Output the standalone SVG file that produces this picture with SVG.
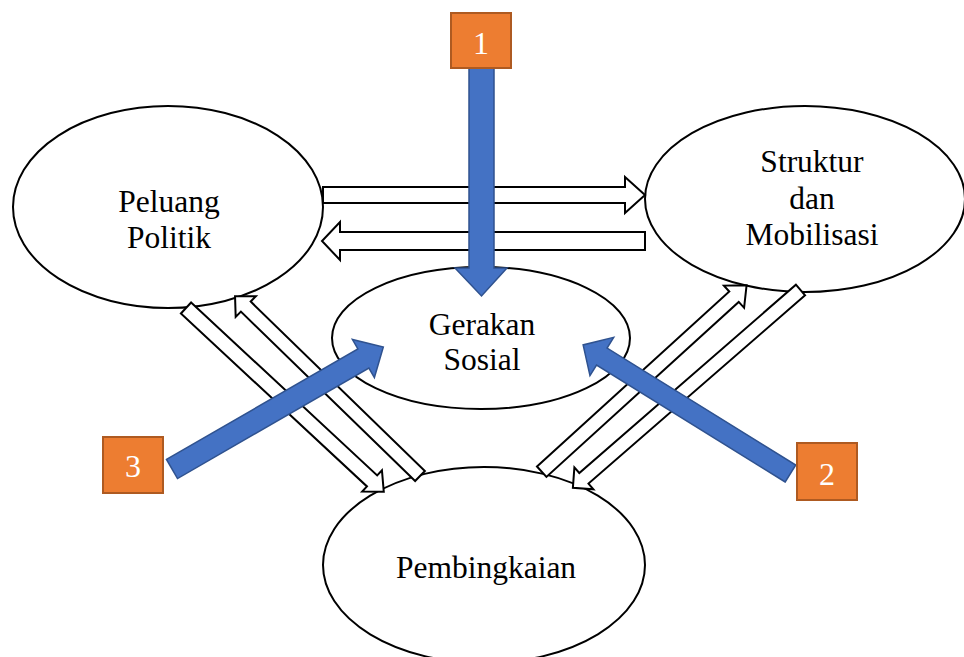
<svg xmlns="http://www.w3.org/2000/svg" width="964" height="657" viewBox="0 0 964 657">
<style>
.node ellipse{fill:#fff;stroke:#000;stroke-width:2}
.lbl{font-family:"Liberation Serif","Times New Roman",serif;font-size:31.5px;fill:#000;text-anchor:middle}
.hollow{fill:#fff;stroke:#000;stroke-width:2;stroke-linejoin:miter}
.blue{fill:#4472C4;stroke:#2F528F;stroke-width:1.5}
.box rect{fill:#ED7D31;stroke:#AE5A21;stroke-width:2}
.num{font-family:"Liberation Serif","Times New Roman",serif;font-size:32px;fill:#fff;text-anchor:middle}
</style>
<rect width="964" height="657" fill="#fff"/>
<g id="peluang" class="node">
<ellipse cx="168" cy="207" rx="155" ry="101"/>
<text class="lbl" x="169" y="212">Peluang</text>
<text class="lbl" x="169" y="248">Politik</text>
</g>
<g id="struktur" class="node">
<ellipse cx="805" cy="199" rx="160" ry="93"/>
<text class="lbl" x="812" y="172">Struktur</text>
<text class="lbl" x="812" y="209">dan</text>
<text class="lbl" x="812" y="245">Mobilisasi</text>
</g>
<g id="gerakan" class="node">
<ellipse cx="481" cy="338" rx="149" ry="71"/>
<text class="lbl" x="482" y="335">Gerakan</text>
<text class="lbl" x="482" y="370">Sosial</text>
</g>
<g id="pembingkaian" class="node">
<ellipse cx="484" cy="565" rx="161" ry="98"/>
<text class="lbl" x="486" y="578">Pembingkaian</text>
</g>
<g id="connectors">
<polygon class="hollow" points="323,187 625,187 625,177 645,195 625,213 625,203 323,203"/>
<polygon class="hollow" points="645,232 340,232 340,222 322,241 340,260 340,250 645,250"/>
<polygon class="hollow" transform="translate(186,308) rotate(42.9)" points="0,-7.5 254,-7.5 254,-14.5 270,0 254,14.5 254,7.5 0,7.5"/>
<polygon class="hollow" transform="translate(420,476) rotate(224.2)" points="0,-7 243,-7 243,-14.5 258,0 243,14.5 243,7 0,7"/>
<polygon class="hollow" transform="translate(541.7,471.7) rotate(-42.3)" points="0,-7 260,-7 260,-15 277,0 260,15 260,7 0,7"/>
<polygon class="hollow" transform="translate(800.5,290) rotate(139)" points="0,-7 287,-7 287,-14.5 301.6,0 287,14.5 287,7 0,7"/>
<polygon class="blue" points="469,66 494,66 494,268 507,268 481.5,296 455,268 469,268"/>
<polygon class="blue" transform="translate(172,469) rotate(-30)" points="0,-11 221,-11 221,-22 244,0 221,22 221,11 0,11"/>
<polygon class="blue" transform="translate(790.5,473.5) rotate(-148.2)" points="0,-10 222,-10 222,-22.5 244,0 222,22.5 222,10 0,10"/>
</g>
<g id="box1" class="box">
<rect x="451" y="13" width="60" height="55"/>
<text class="num" x="481" y="54">1</text>
</g>
<g id="box2" class="box">
<rect x="797" y="443" width="60" height="57"/>
<text class="num" x="827" y="485">2</text>
</g>
<g id="box3" class="box">
<rect x="103" y="437" width="60" height="56"/>
<text class="num" x="133" y="477">3</text>
</g>
</svg>
